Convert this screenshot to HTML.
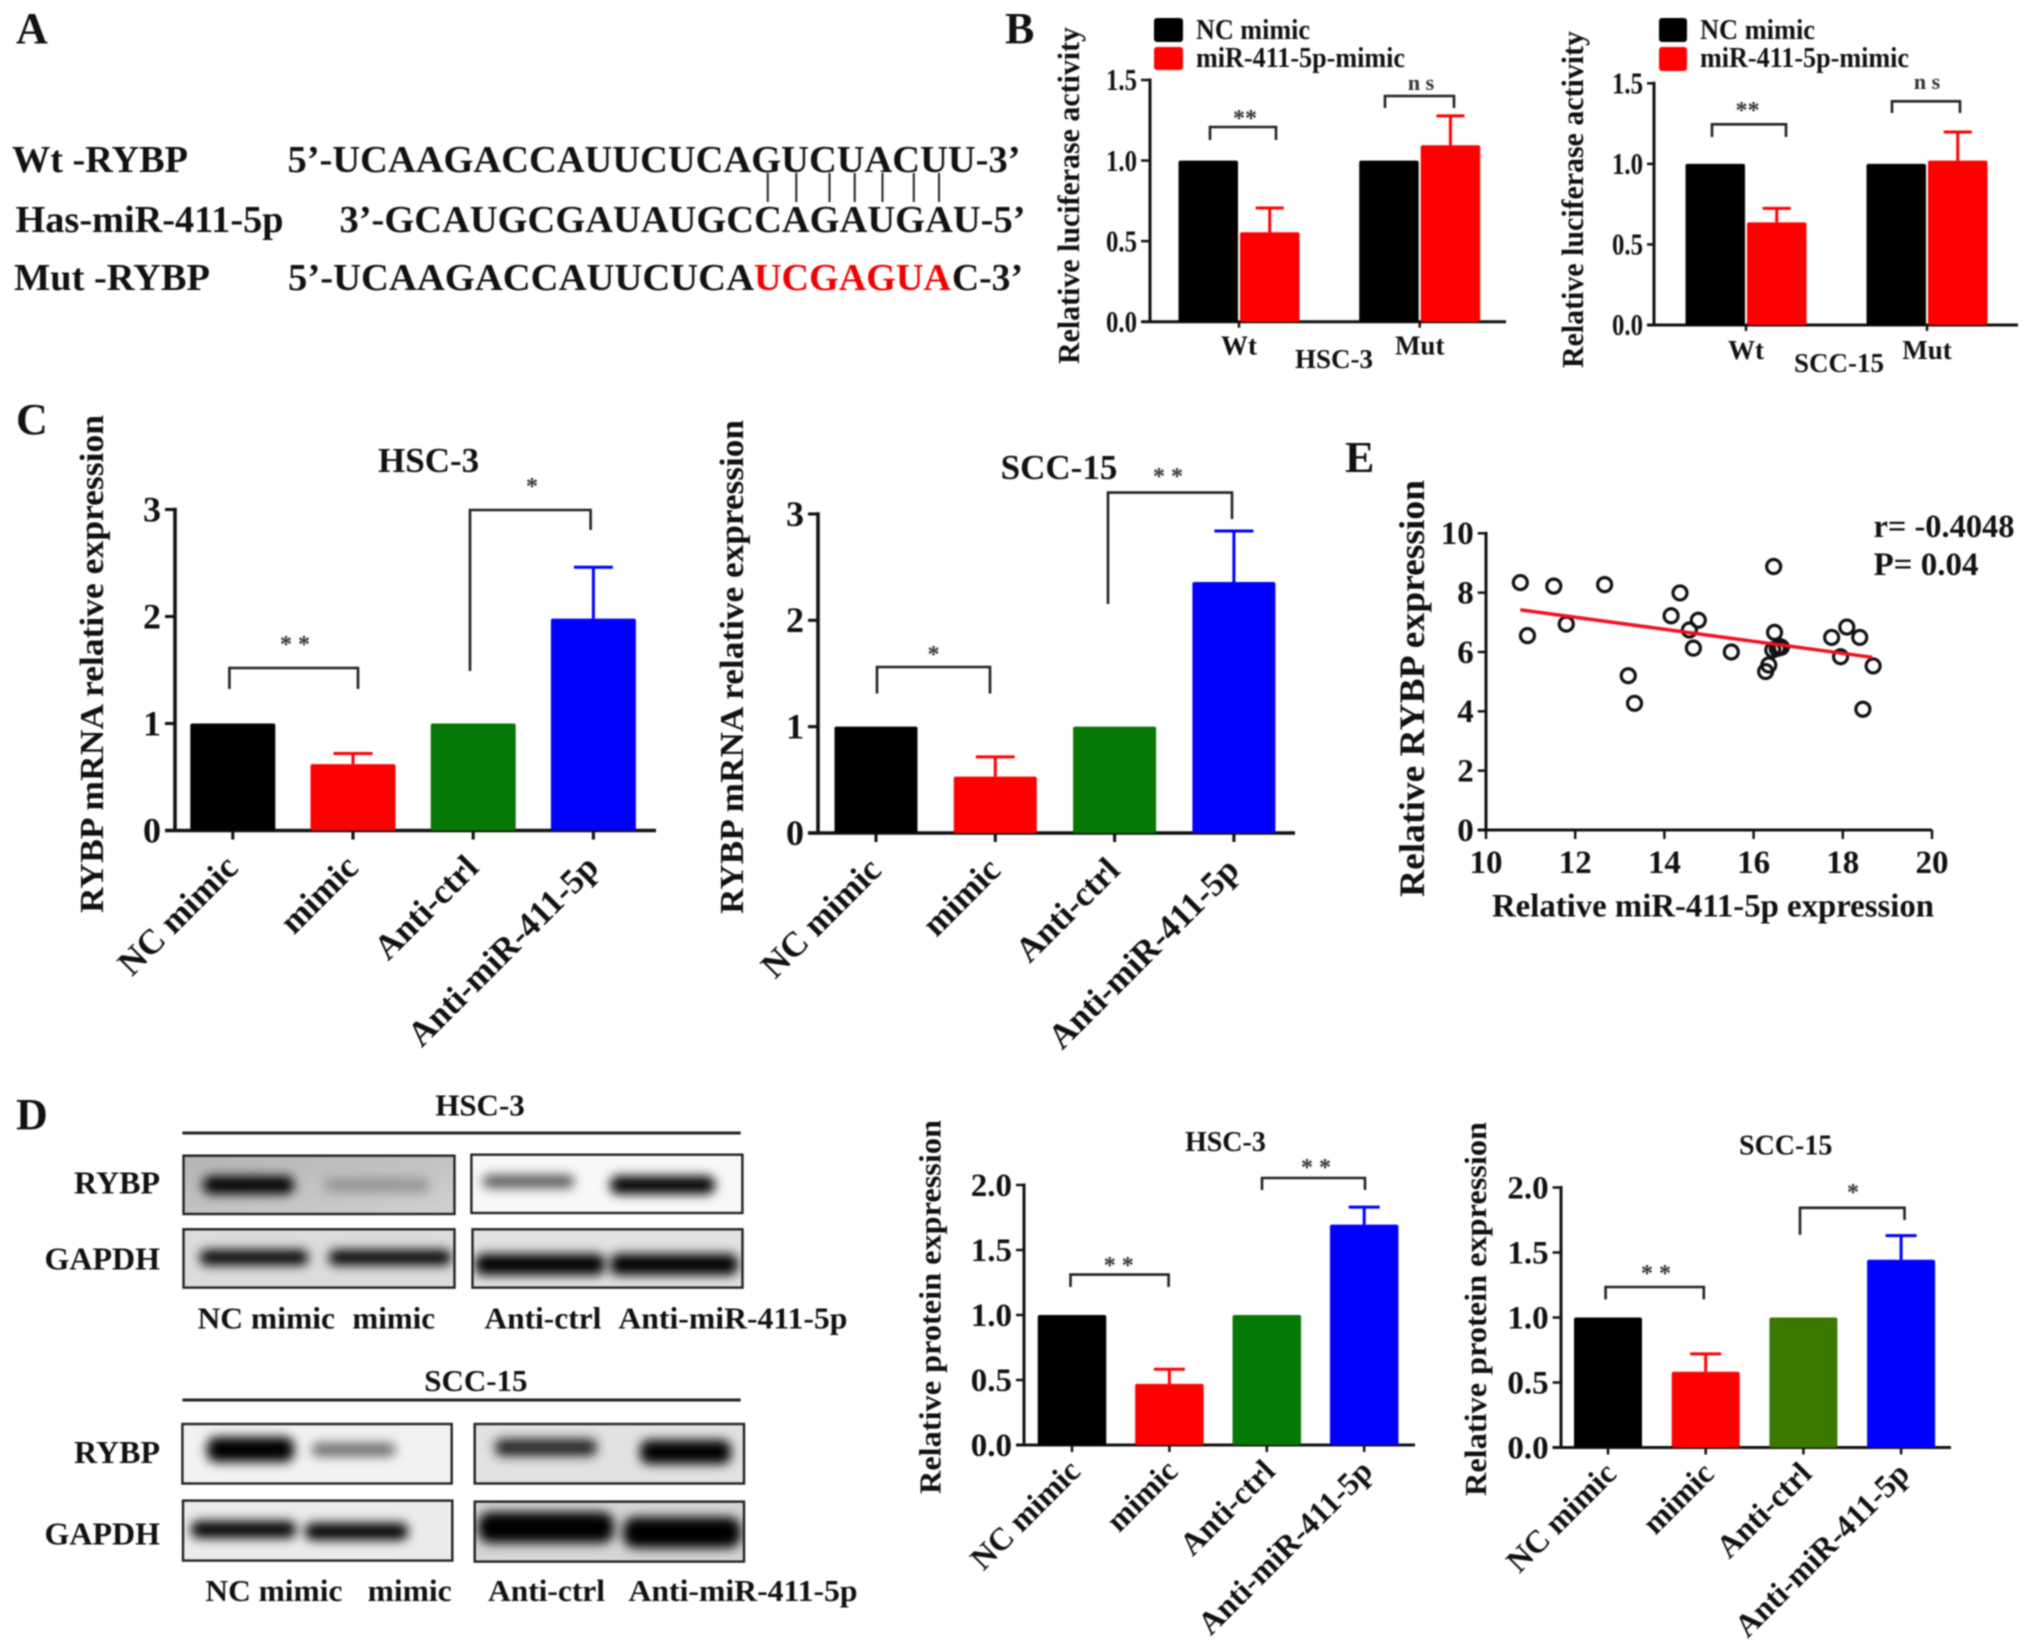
<!DOCTYPE html>
<html lang="en">
<head>
<meta charset="utf-8">
<title>RYBP miR-411-5p figure</title>
<style>
html,body{margin:0;padding:0;background:#fff;width:2031px;height:1651px;overflow:hidden}
svg{display:block;filter:blur(0.7px)}
text{font-family:"Liberation Serif",serif;font-weight:bold;fill:#111}
.star{font-size:24px;fill:#333;text-anchor:middle}
.br{fill:none;stroke:#222;stroke-width:2.6}
.box{fill:none;stroke:#222;stroke-width:2.4}
</style>
</head>
<body>
<svg id="fig" xmlns="http://www.w3.org/2000/svg" width="2031" height="1651" viewBox="0 0 2031 1651">
<defs>
<filter id="bl" x="-30%" y="-150%" width="160%" height="400%"><feGaussianBlur stdDeviation="5.5"/></filter>
<clipPath id="c1"><rect x="183.5" y="1155.7" width="271" height="58.3"/></clipPath>
<clipPath id="c2"><rect x="471.4" y="1154.7" width="271" height="58.3"/></clipPath>
<clipPath id="c3"><rect x="183.5" y="1229.3" width="271" height="58.3"/></clipPath>
<clipPath id="c4"><rect x="472.5" y="1229.3" width="270" height="58.3"/></clipPath>
<clipPath id="c5"><rect x="182.4" y="1424" width="269.3" height="59.5"/></clipPath>
<clipPath id="c6"><rect x="474.7" y="1424" width="269.3" height="59.5"/></clipPath>
<clipPath id="c7"><rect x="183" y="1500.6" width="269.3" height="60"/></clipPath>
<clipPath id="c8"><rect x="474.7" y="1501.6" width="269.3" height="60"/></clipPath>
<linearGradient id="g1" x1="0" y1="0" x2="1" y2="1"><stop offset="0" stop-color="#b4b4b4"/><stop offset="1" stop-color="#d0d0d0"/></linearGradient>
</defs>

<!-- Panel letters -->
<text x="16" y="43" font-size="44">A</text>
<text x="1005" y="43" font-size="44">B</text>
<text x="16" y="434" font-size="44">C</text>
<text x="16" y="1129" font-size="44">D</text>
<text x="1345" y="472" font-size="44">E</text>

<!-- Panel A -->
<g>
<text x="12" y="172" font-size="38" textLength="176" lengthAdjust="spacingAndGlyphs">Wt -RYBP</text>
<text x="15.5" y="232" font-size="38" textLength="268" lengthAdjust="spacingAndGlyphs">Has-miR-411-5p</text>
<text x="14" y="290" font-size="38" textLength="196" lengthAdjust="spacingAndGlyphs">Mut -RYBP</text>
<text x="287.5" y="172" font-size="38" textLength="733" lengthAdjust="spacingAndGlyphs">5’-UCAAGACCAUUCUCAGUCUACUU-3’</text>
<text x="339.5" y="232" font-size="38" textLength="686" lengthAdjust="spacingAndGlyphs">3’-GCAUGCGAUAUGCCAGAUGAU-5’</text>
<text x="288" y="290" font-size="38" textLength="466" lengthAdjust="spacingAndGlyphs">5’-UCAAGACCAUUCUCA</text>
<text x="754" y="290" font-size="38" textLength="197" lengthAdjust="spacingAndGlyphs" style="fill:#f00000">UCGAGUA</text>
<text x="952" y="290" font-size="38" textLength="71" lengthAdjust="spacingAndGlyphs">C-3’</text>
<path d="M767.8 173V202M796.3 173V202M829.5 173V202M854.7 173V202M882.5 173V202M913.8 173V202M939 173V202" stroke="#222" stroke-width="2" fill="none"/>
</g>

<!-- Panel B static -->
<g>
<rect x="1154" y="18" width="29" height="24" rx="3" fill="#000"/>
<rect x="1154" y="47" width="29" height="23" rx="3" fill="#f00"/>
<text x="1196" y="39" font-size="28" textLength="114" lengthAdjust="spacingAndGlyphs">NC mimic</text>
<text x="1196" y="67" font-size="28" textLength="209" lengthAdjust="spacingAndGlyphs">miR-411-5p-mimic</text>
<rect x="1659" y="18" width="28" height="24" rx="3" fill="#000"/>
<rect x="1659" y="47" width="28" height="24" rx="3" fill="#f00"/>
<text x="1700" y="39" font-size="28" textLength="115" lengthAdjust="spacingAndGlyphs">NC mimic</text>
<text x="1700" y="67" font-size="28" textLength="209" lengthAdjust="spacingAndGlyphs">miR-411-5p-mimic</text>
<text transform="translate(1079,364) rotate(-90)" font-size="31" textLength="337" lengthAdjust="spacingAndGlyphs">Relative luciferase activity</text>
<text transform="translate(1583,368) rotate(-90)" font-size="31" textLength="337" lengthAdjust="spacingAndGlyphs">Relative luciferase activity</text>
<text x="1334" y="368" font-size="27" text-anchor="middle">HSC-3</text>
<text x="1839" y="372" font-size="27" text-anchor="middle">SCC-15</text>
<path class="br" d="M1210 140V127H1276V140"/>
<path class="br" d="M1385 108V96H1454V108"/>
<path class="br" d="M1712 137V124.3H1786V137"/>
<path class="br" d="M1892 113V101.3H1960V113"/>
<text class="star" x="1245" y="126">**</text>
<text class="star" x="1421" y="90" style="font-size:22px">n s</text>
<text class="star" x="1747.5" y="118">**</text>
<text class="star" x="1927" y="89" style="font-size:22px">n s</text>
</g>

<!-- Panel C static -->
<g>
<text transform="translate(103,913) rotate(-90)" font-size="34" textLength="498" lengthAdjust="spacingAndGlyphs">RYBP mRNA relative expression</text>
<text transform="translate(743,914) rotate(-90)" font-size="34" textLength="494" lengthAdjust="spacingAndGlyphs">RYBP mRNA relative expression</text>
<text x="428.6" y="472" font-size="35" text-anchor="middle">HSC-3</text>
<text x="1059" y="479" font-size="35" text-anchor="middle">SCC-15</text>
<path class="br" d="M229.4 689V668H358V689"/>
<path class="br" d="M470 671V510H590.6V530"/>
<path class="br" d="M877 693.5V667H990V693.5"/>
<path class="br" d="M1108 604V492.6H1232V519"/>
<text class="star" x="295" y="652">* *</text>
<text class="star" x="532" y="494">*</text>
<text class="star" x="933.5" y="662">*</text>
<text class="star" x="1168" y="484">* *</text>
</g>

<!-- Panel D blots -->
<g>
<text x="480" y="1115.7" font-size="31" text-anchor="middle">HSC-3</text>
<rect x="182.4" y="1131.5" width="558.3" height="3" fill="#222"/>
<text x="475.9" y="1391" font-size="31" text-anchor="middle">SCC-15</text>
<rect x="182.4" y="1398.5" width="558.3" height="3" fill="#222"/>

<g clip-path="url(#c1)"><rect x="183.5" y="1155.7" width="271" height="58.3" fill="url(#g1)"/><rect x="203" y="1176" width="91" height="18" rx="8" fill="#000" filter="url(#bl)"/><rect x="325" y="1178" width="104" height="14" rx="6" fill="#949494" filter="url(#bl)"/></g>
<rect class="box" x="183.5" y="1155.7" width="271" height="58.3"/>
<g clip-path="url(#c2)"><rect x="471.4" y="1154.7" width="271" height="58.3" fill="#f8f8f8"/><rect x="483" y="1175" width="91" height="13" rx="5" fill="#555" filter="url(#bl)"/><rect x="610" y="1176" width="105" height="18" rx="8" fill="#000" filter="url(#bl)"/></g>
<rect class="box" x="471.4" y="1154.7" width="271" height="58.3"/>
<g clip-path="url(#c3)"><rect x="183.5" y="1229.3" width="271" height="58.3" fill="#dcdcdc"/><rect x="200" y="1250" width="108" height="15" rx="6" fill="#000" filter="url(#bl)"/><rect x="329" y="1250" width="122" height="15" rx="6" fill="#000" filter="url(#bl)"/></g>
<rect class="box" x="183.5" y="1229.3" width="271" height="58.3"/>
<g clip-path="url(#c4)"><rect x="472.5" y="1229.3" width="270" height="58.3" fill="#e2e2e2"/><rect x="475" y="1254" width="130" height="21" rx="8" fill="#000" filter="url(#bl)"/><rect x="610" y="1254" width="128" height="21" rx="8" fill="#000" filter="url(#bl)"/></g>
<rect class="box" x="472.5" y="1229.3" width="270" height="58.3"/>
<g clip-path="url(#c5)"><rect x="182.4" y="1424" width="269.3" height="59.5" fill="#f2f2f2"/><rect x="207" y="1437" width="87" height="25" rx="9" fill="#000" filter="url(#bl)"/><rect x="312" y="1443" width="83" height="13" rx="5" fill="#666" filter="url(#bl)"/></g>
<rect class="box" x="182.4" y="1424" width="269.3" height="59.5"/>
<g clip-path="url(#c6)"><rect x="474.7" y="1424" width="269.3" height="59.5" fill="#e2e2e2"/><rect x="495" y="1439" width="102" height="17" rx="7" fill="#222" filter="url(#bl)"/><rect x="640" y="1440" width="91" height="24" rx="9" fill="#000" filter="url(#bl)"/></g>
<rect class="box" x="474.7" y="1424" width="269.3" height="59.5"/>
<g clip-path="url(#c7)"><rect x="183" y="1500.6" width="269.3" height="60" fill="#ececec"/><rect x="191" y="1521" width="105" height="17" rx="7" fill="#000" filter="url(#bl)"/><rect x="305" y="1523" width="103" height="17" rx="7" fill="#000" filter="url(#bl)"/></g>
<rect class="box" x="183" y="1500.6" width="269.3" height="60"/>
<g clip-path="url(#c8)"><rect x="474.7" y="1501.6" width="269.3" height="60" fill="#d6d6d6"/><rect x="478" y="1512" width="136" height="31" rx="12" fill="#000" filter="url(#bl)"/><rect x="623" y="1517" width="118" height="31" rx="12" fill="#000" filter="url(#bl)"/></g>
<rect class="box" x="474.7" y="1501.6" width="269.3" height="60"/>

<text x="160" y="1193.6" font-size="32" text-anchor="end">RYBP</text>
<text x="160" y="1269.4" font-size="32" text-anchor="end">GAPDH</text>
<text x="160" y="1463" font-size="32" text-anchor="end">RYBP</text>
<text x="160" y="1544.3" font-size="32" text-anchor="end">GAPDH</text>
<text x="197.5" y="1328.4" font-size="31" textLength="137.5" lengthAdjust="spacingAndGlyphs">NC mimic</text>
<text x="352.4" y="1328.4" font-size="31" textLength="82.6" lengthAdjust="spacingAndGlyphs">mimic</text>
<text x="484.4" y="1328.4" font-size="31" textLength="117" lengthAdjust="spacingAndGlyphs">Anti-ctrl</text>
<text x="618.4" y="1328.4" font-size="31" textLength="229" lengthAdjust="spacingAndGlyphs">Anti-miR-411-5p</text>
<text x="205.4" y="1600.8" font-size="31" textLength="137" lengthAdjust="spacingAndGlyphs">NC mimic</text>
<text x="367.6" y="1600.8" font-size="31" textLength="84" lengthAdjust="spacingAndGlyphs">mimic</text>
<text x="488" y="1600.8" font-size="31" textLength="117" lengthAdjust="spacingAndGlyphs">Anti-ctrl</text>
<text x="628.5" y="1600.8" font-size="31" textLength="229" lengthAdjust="spacingAndGlyphs">Anti-miR-411-5p</text>
</g>

<!-- Panel D charts static -->
<g>
<text transform="translate(940.6,1494) rotate(-90)" font-size="31" textLength="374" lengthAdjust="spacingAndGlyphs">Relative protein expression</text>
<text transform="translate(1486,1496) rotate(-90)" font-size="31" textLength="374" lengthAdjust="spacingAndGlyphs">Relative protein expression</text>
<text x="1225.4" y="1151" font-size="28" text-anchor="middle">HSC-3</text>
<text x="1785.7" y="1154.5" font-size="28" text-anchor="middle">SCC-15</text>
<path class="br" d="M1070.5 1287V1274.6H1168.6V1287"/>
<path class="br" d="M1262 1190V1178H1365V1190"/>
<path class="br" d="M1605.6 1299.4V1287H1703.8V1299.4"/>
<path class="br" d="M1800 1234.7V1207.8H1904.5V1220"/>
<text class="star" x="1118.7" y="1273">* *</text>
<text class="star" x="1316" y="1175">* *</text>
<text class="star" x="1656" y="1281">* *</text>
<text class="star" x="1853" y="1200">*</text>
</g>

<!-- Panel E static -->
<g>
<text transform="translate(1424,897) rotate(-90)" font-size="36" textLength="417" lengthAdjust="spacingAndGlyphs">Relative RYBP expression</text>
<text x="1492" y="916.7" font-size="33" textLength="442" lengthAdjust="spacingAndGlyphs">Relative miR-411-5p expression</text>
<text x="1873.5" y="537" font-size="33" textLength="141" lengthAdjust="spacingAndGlyphs">r= -0.4048</text>
<text x="1873.5" y="575" font-size="33" textLength="105" lengthAdjust="spacingAndGlyphs">P= 0.04</text>
</g>

<g id="charts"></g>
</svg>

<script>
// ---- Panel B data ----
const bGroups = ['Wt', 'Mut'];
const bTicks = [0, 0.5, 1.0, 1.5];
const b1Control = [1, 1];
const b1Mimic = [0.555, 1.095];
const b1MimicErrTop = [0.706, 1.277];
const b2Control = [1, 1];
const b2Mimic = [0.637, 1.02];
const b2MimicErrTop = [0.724, 1.198];

// ---- Panel C data ----
const treatments = ['NC mimic', 'mimic', 'Anti-ctrl', 'Anti-miR-411-5p'];
const cTicks = [0, 1, 2, 3];
const c1Values = [1, 0.62, 1, 1.98];
const c1ErrTop = [1, 0.72, 1, 2.46];
const c2Values = [1, 0.53, 1, 2.36];
const c2ErrTop = [1, 0.716, 1, 2.84];

// ---- Panel D data ----
const dTicks = [0, 0.5, 1.0, 1.5, 2.0];
const d1Values = [1, 0.47, 1, 1.695];
const d1ErrTop = [1, 0.583, 1, 1.83];
const d2Values = [1, 0.583, 1, 1.444];
const d2ErrTop = [1, 0.72, 1, 1.63];

// ---- Panel E data ----
const eTicksX = [10, 12, 14, 16, 18, 20];
const eTicksY = [0, 2, 4, 6, 8, 10];
const mirExpr = [10.77,10.93,11.52,11.80,12.66,13.19,13.33,14.15,14.35,14.56,14.65,14.76,15.50,16.27,16.34,16.45,16.47,16.43,16.53,16.59,16.62,17.75,17.95,18.09,18.38,18.45,18.68];
const rybpExpr = [8.34,6.55,8.22,6.94,8.27,5.20,4.27,7.22,7.99,6.74,6.13,7.07,6.00,5.34,5.56,8.88,6.66,6.07,6.12,6.18,6.16,6.49,5.84,6.84,6.49,4.07,5.53];
const fitX = [10.77, 18.66];
const fitY = [7.42, 5.82];

const SVGNS = 'http://www.w3.org/2000/svg';
const root = document.getElementById('charts');
function mk(tag, attrs, parent) {
  const n = document.createElementNS(SVGNS, tag);
  for (const k in attrs) n.setAttribute(k, attrs[k]);
  parent.appendChild(n);
  return n;
}
function fmtTick(v, dec) { return dec ? v.toFixed(dec) : String(v); }

function drawAxes(g, L, ticks, dec) {
  const yAxis = v => L.y0 - (v / L.max) * (L.y0 - L.yTop);
  const sx = L.tickSX || 1;
  const a = mk('line', {x1: L.x0, x2: L.x0, y1: yAxis(L.max) - L.sw / 2, y2: L.y0, stroke: '#111', 'stroke-width': L.sw}, g);
  
  
  const b = mk('line', {x1: L.tickLeft, x2: L.xEnd, y1: L.y0, y2: L.y0, stroke: '#111', 'stroke-width': L.sw}, g);
  
  
  ticks.forEach(v => {
    const t = mk('line', {x1: L.tickLeft, x2: L.x0, y1: yAxis(v), y2: yAxis(v), stroke: '#111', 'stroke-width': L.sw - 0.5}, g);
    
    
    const lb = mk('text', {transform: 'translate(' + (L.tickLeft - 4) + ',' + (yAxis(v) + L.tickFont * 0.33) + ') scale(' + sx + ',1)', 'font-size': L.tickFont, 'text-anchor': 'end'}, g);
    
    
    lb.textContent = fmtTick(v, dec);
  });
  return yAxis;
}

function drawBar(g, cx, w, top, L, fill) {
  const r = mk('rect', {x: cx - w / 2, y: top, width: w, height: L.y0 - top, fill: fill, rx: 2}, g);
  
  
}
function drawErr(g, cx, from, to, cap, color) {
  const s = mk('line', {x1: cx, x2: cx, y1: from, y2: to, stroke: color, 'stroke-width': 3}, g);
  
  
  const c = mk('line', {x1: cx - cap / 2, x2: cx + cap / 2, y1: to, y2: to, stroke: color, 'stroke-width': 3}, g);
  
  
}

const treatmentFill = ['#000000', '#ff0000', '#067806', '#0000ff'];

function treatmentChart(name, L, values, errTop, ticks, dec, fills) {
  const g = mk('g', {}, root);
  
  
  const yAxis = drawAxes(g, L, ticks, dec);
  const xAxis = i => L.c0 + i * L.step;
  values.forEach((v, i) => {
    drawBar(g, xAxis(i), L.barW, yAxis(v), L, fills[i]);
    if (errTop[i] > v) drawErr(g, xAxis(i), yAxis(v), yAxis(errTop[i]), L.cap, fills[i]);
    const t = mk('line', {x1: xAxis(i), x2: xAxis(i), y1: L.y0, y2: L.y0 + L.tickDown, stroke: '#111', 'stroke-width': L.sw - 0.5}, g);
    
    
    const lb = mk('text', {transform: 'translate(' + (xAxis(i) + L.lblDx) + ',' + (L.y0 + L.lblDy) + ') rotate(-45)', 'font-size': L.lblFont, 'text-anchor': 'end'}, g);
    
    
    lb.textContent = treatments[i];
  });
}

function groupChart(name, L, control, mimic, errTop) {
  const g = mk('g', {}, root);
  
  
  const yAxis = drawAxes(g, L, bTicks, 1);
  const xAxis = i => L.c0 + i * L.step;
  bGroups.forEach((label, i) => {
    const off = L.barW / 2 + 1;
    drawBar(g, xAxis(i) - off, L.barW, yAxis(control[i]), L, '#000');
    drawBar(g, xAxis(i) + off, L.barW, yAxis(mimic[i]), L, '#ff0000');
    drawErr(g, xAxis(i) + off, yAxis(mimic[i]), yAxis(errTop[i]), L.cap, '#ff0000');
    const t = mk('line', {x1: xAxis(i), x2: xAxis(i), y1: L.y0, y2: L.y0 + L.tickDown, stroke: '#111', 'stroke-width': L.sw - 0.5}, g);
    
    
    const lb = mk('text', {x: xAxis(i), y: L.y0 + L.lblDy, 'font-size': L.lblFont, 'text-anchor': 'middle'}, g);
    
    
    lb.textContent = label;
  });
}

function scatterChart(name, L) {
  const g = mk('g', {}, root);
  
  
  const yAxis = drawAxes(g, L, eTicksY, 0);
  const xAxis = v => L.x0 + (v - L.xMin) / (L.xMax - L.xMin) * (L.xEnd - L.x0);
  eTicksX.forEach(v => {
    const t = mk('line', {x1: xAxis(v), x2: xAxis(v), y1: L.y0, y2: L.y0 + L.tickDown, stroke: '#111', 'stroke-width': L.sw - 0.5}, g);
    
    
    const lb = mk('text', {x: xAxis(v), y: L.y0 + 43, 'font-size': L.tickFont, 'text-anchor': 'middle'}, g);
    
    
    lb.textContent = String(v);
  });
  mirExpr.forEach((x, i) => {
    const c = mk('circle', {cx: xAxis(x), cy: yAxis(rybpExpr[i]), r: 7, fill: 'none', stroke: '#111', 'stroke-width': 3.2}, g);
    
    
  });
  const f = mk('line', {x1: xAxis(fitX[0]), y1: yAxis(fitY[0]), x2: xAxis(fitX[1]), y2: yAxis(fitY[1]), stroke: '#f01020', 'stroke-width': 3.5}, g);
  
  
}

groupChart('chart-b-hsc3', {x0:1150,xEnd:1506,y0:321.7,yTop:80,max:1.5,tickLeft:1141,tickDown:6,sw:3,tickFont:31,tickSX:0.8,c0:1239,step:180.7,barW:59.5,cap:28,lblDy:33,lblFont:27}, b1Control, b1Mimic, b1MimicErrTop);
groupChart('chart-b-scc15', {x0:1654,xEnd:2018,y0:325,yTop:83.3,max:1.5,tickLeft:1647,tickDown:6,sw:3,tickFont:31,tickSX:0.8,c0:1746,step:181,barW:59.5,cap:28,lblDy:34,lblFont:27}, b2Control, b2Mimic, b2MimicErrTop);
treatmentChart('chart-c-hsc3', {x0:175,xEnd:656,y0:830.5,yTop:509.5,max:3,tickLeft:165,tickDown:9,sw:3.6,tickFont:36,c0:232.8,step:120.2,barW:85,cap:39,lblDx:7,lblDy:39,lblFont:35}, c1Values, c1ErrTop, cTicks, 0, treatmentFill);
treatmentChart('chart-c-scc15', {x0:818,xEnd:1295,y0:833,yTop:514,max:3,tickLeft:808,tickDown:9,sw:3.6,tickFont:36,c0:876,step:119.3,barW:83,cap:39,lblDx:7,lblDy:39,lblFont:35}, c2Values, c2ErrTop, cTicks, 0, treatmentFill);
treatmentChart('chart-d-hsc3', {x0:1024,xEnd:1415,y0:1445,yTop:1185,max:2,tickLeft:1016,tickDown:7,sw:3,tickFont:33,c0:1072,step:97.4,barW:68.5,cap:31,lblDx:10,lblDy:28,lblFont:32}, d1Values, d1ErrTop, dTicks, 1, treatmentFill);
treatmentChart('chart-d-scc15', {x0:1561,xEnd:1951,y0:1447.5,yTop:1187.5,max:2,tickLeft:1552.6,tickDown:7,sw:3,tickFont:33,c0:1608,step:97.7,barW:68,cap:31,lblDx:10,lblDy:28,lblFont:32}, d2Values, d2ErrTop, dTicks, 1, ['#000000', '#ff0000', '#3a7800', '#0000ff']);
scatterChart('chart-e-correlation', {x0:1486,xEnd:1932,y0:830,yTop:533.3,max:10,xMin:10,xMax:20,tickLeft:1477.7,tickDown:9,sw:3,tickFont:33});
</script>
</body>
</html>
